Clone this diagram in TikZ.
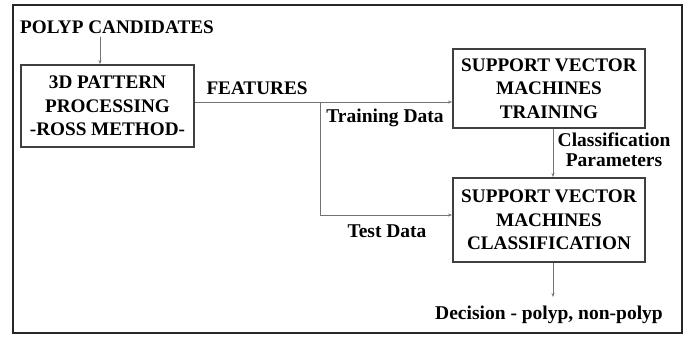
\documentclass[tikz,border=0pt]{standalone}
\usepackage{fontspec}
\setmainfont{Liberation Serif}
\usetikzlibrary{arrows.meta}
\begin{document}
\begin{tikzpicture}[x=1pt,y=-1pt,
  every node/.style={font=\bfseries\fontsize{19.2}{23.5}\selectfont, inner sep=0pt},
  procbox/.style={draw=black!75, line width=2pt, align=center, minimum width=#1},
  conn/.style={draw=black!55, line width=0.8pt},
  arr/.style={conn, -{Stealth[length=4pt,width=3pt]}},
  lbl/.style={font=\bfseries\fontsize{19.5}{20}\selectfont, align=center}]
\useasboundingbox (0,0) rectangle (685,337);
\draw[line width=2.5pt, black!85] (13,5) rectangle (682,333);
\node (cand) at (117,27) {POLYP CANDIDATES};
\node[procbox=173pt, minimum height=82pt] (ross) at (107.5,106) {3D PATTERN\\PROCESSING\\-ROSS METHOD-};
\node[procbox=192pt, minimum height=79pt] (train) at (549,88.5) {SUPPORT VECTOR\\MACHINES\\TRAINING};
\node[procbox=192pt, minimum height=84pt] (cls) at (549,220) {SUPPORT VECTOR\\MACHINES\\CLASSIFICATION};
\node (feat) at (257,88) {FEATURES};
\node[lbl] (trd) at (385,118) {Training Data};
\node[lbl] (ted) at (387,231) {Test Data};
\node[lbl] (cp) at (614,150) {Classification\\Parameters};
\node[lbl] (dec) at (549,315) {Decision - polyp, non-polyp};
\coordinate (split) at (320,102);
\coordinate (split2) at (320,215);
\coordinate (decend) at (553,297);
\draw[arr] (cand.south -| 100,0) ++(0,3) coordinate (c0) -- (c0 |- ross.north);
\draw[arr] (ross.east |- split) -- (train.west |- split);
\draw[arr] (split) -- (split2) -- (cls.west |- split2);
\draw[arr] (train.south -| 553,0) -- (cls.north -| 553,0);
\draw[arr] (cls.south -| 553,0) -- (decend);
\end{tikzpicture}
\end{document}
